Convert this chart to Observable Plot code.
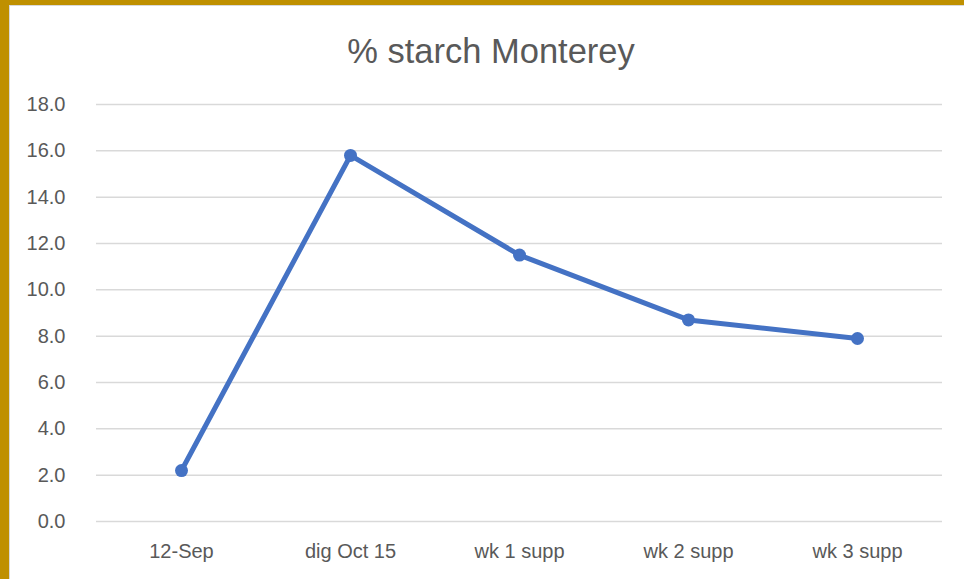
<!DOCTYPE html>
<html>
<head>
<meta charset="utf-8">
<script src="https://cdn.jsdelivr.net/npm/d3@7"></script>
<script src="https://cdn.jsdelivr.net/npm/@observablehq/plot@0.6"></script>
<style>
  html, body { margin: 0; padding: 0; background: #fff; }
  #wrap { position: relative; width: 964px; height: 579px; overflow: hidden; background: #fff; font-family: "Liberation Sans", Arial, sans-serif; }
  .gold-left { position: absolute; left: 0; top: 0; width: 9px; height: 579px; background: #BF9000; }
  .gold-top { position: absolute; left: 0; top: 0; width: 964px; height: 5px; background: #BF9000; }
  .inner { position: absolute; left: 9px; top: 5px; width: 1000px; height: 1000px; border-left: 1px solid #d9d9d9; border-top: 1px solid #d9d9d9; }
  #title { position: absolute; left: 0; width: 982px; top: 31px; text-align: center; font-size: 34.5px; line-height: 40px; color: #595959; }
  #chart { position: absolute; left: 0; top: 0; }
</style>
</head>
<body>
<div id="wrap">
  <div class="inner"></div>
  <div class="gold-left"></div>
  <div class="gold-top"></div>
  <div id="title">% starch Monterey</div>
  <div id="chart"></div>
</div>
<script>
const categories = ["12-Sep", "dig Oct 15", "wk 1 supp", "wk 2 supp", "wk 3 supp"];
const starch = [2.2, 15.8, 11.5, 8.7, 7.9];
const yTicks = [0, 2, 4, 6, 8, 10, 12, 14, 16, 18];

const data = categories.map((c, i) => ({category: c, value: starch[i]}));

const chart = Plot.plot({
  width: 964,
  height: 579,
  marginLeft: 96,
  marginRight: 22,
  marginTop: 104,
  marginBottom: 58,
  style: {background: "transparent", fontFamily: "'Liberation Sans', Arial, sans-serif", color: "#595959"},
  x: {type: "point", domain: categories, padding: 0.5},
  y: {domain: [0, 18]},
  marks: [
    Plot.gridY(yTicks, {stroke: "#d9d9d9", strokeOpacity: 1, strokeWidth: 1.5}),
    Plot.axisY({ticks: yTicks, tickFormat: d3.format(".1f"), tickSize: 0, tickPadding: 31, fontSize: 20, fill: "#595959", label: null}),
    Plot.axisX({tickSize: 0, tickPadding: 22, fontSize: 20, fill: "#595959", label: null}),
    Plot.line(data, {x: "category", y: "value", stroke: "#4472C4", strokeWidth: 5, strokeLinejoin: "round", strokeLinecap: "round"}),
    Plot.dot(data, {x: "category", y: "value", r: 6.5, fill: "#4472C4", stroke: "none"})
  ]
});
document.getElementById("chart").appendChild(chart);
</script>
</body>
</html>
